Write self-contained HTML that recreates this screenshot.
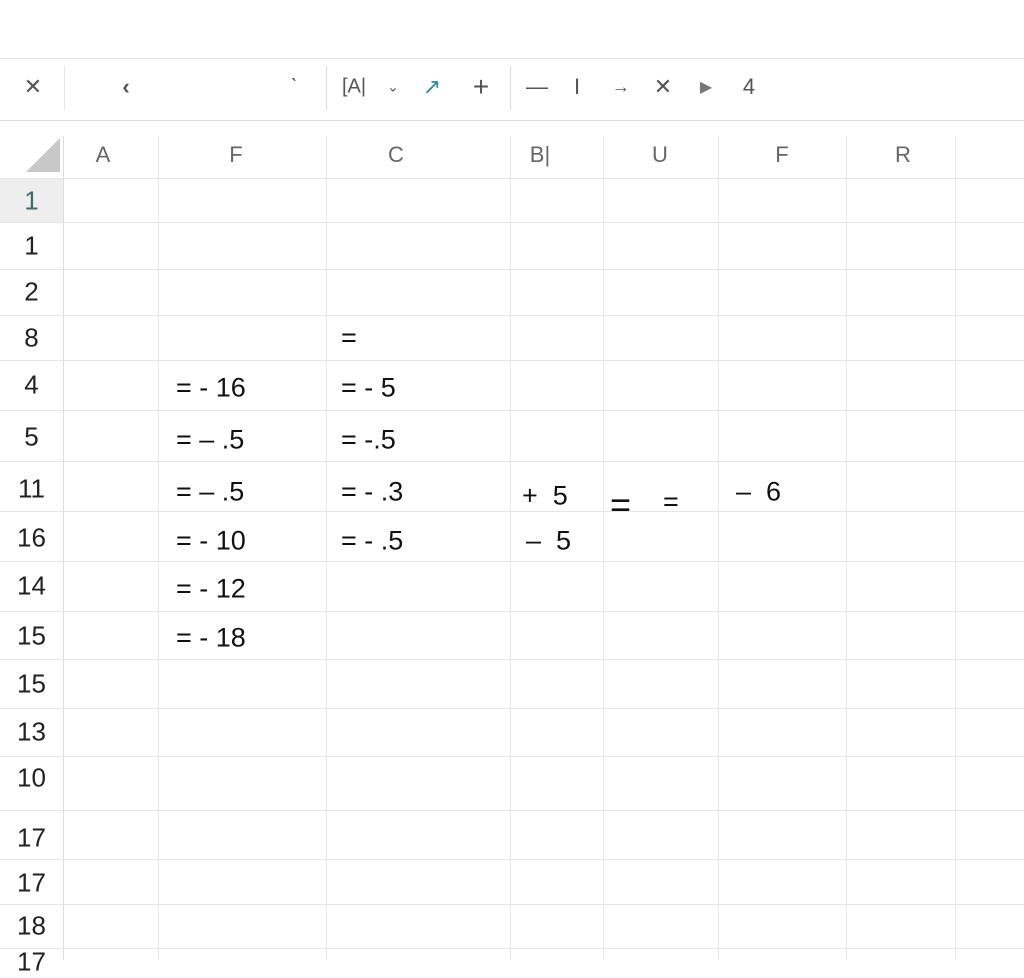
<!DOCTYPE html>
<html><head><style>
body{margin:0;width:1024px;height:960px;background:#fff;position:relative;overflow:hidden;font-family:"Liberation Sans",sans-serif;}
.a{position:absolute;}
.h{position:absolute;height:1px;background:#e6e6e6;left:0;width:1024px}
.v{position:absolute;width:1px;background:#e8e8e8;top:136px;height:824px}
.t{position:absolute;font-size:27px;color:#111;white-space:pre;transform:translateY(-50%)}
.r{position:absolute;left:0;width:63px;text-align:center;font-size:26px;color:#222;transform:translateY(-50%)}
.c{position:absolute;top:155px;font-size:22px;color:#666;transform:translate(-50%,-50%)}
.i{position:absolute;top:87px;font-size:22px;color:#555;transform:translate(-50%,-50%)}
</style></head><body>
<div class="h" style="top:58px;background:#e4e4e4"></div>
<div class="h" style="top:120px;background:#ddd"></div>
<div class="a" style="left:64px;top:66px;width:1px;height:44px;background:#e5e5e5"></div>
<div class="a" style="left:326px;top:66px;width:1px;height:44px;background:#ddd"></div>
<div class="a" style="left:510px;top:66px;width:1px;height:44px;background:#ddd"></div>
<div class="i" style="left:33px">✕</div>
<div class="i" style="left:126px;font-weight:bold">‹</div>
<div class="i" style="left:294px">ˋ</div>
<div class="i" style="left:354px;font-size:20px">[A|</div>
<div class="i" style="left:393px;font-size:14px">⌄</div>
<div class="i" style="left:432px;color:#2a8aa0">↗</div>
<div class="i" style="left:481px;font-size:28px">+</div>
<div class="i" style="left:537px">—</div>
<div class="i" style="left:577px">I</div>
<div class="i" style="left:621px;font-size:18px">→</div>
<div class="i" style="left:663px">✕</div>
<div class="i" style="left:706px;color:#777;font-size:16px">▶</div>
<div class="i" style="left:749px">4</div>
<svg class="a" style="left:26px;top:138px" width="34" height="34"><polygon points="34,0 34,34 0,34" fill="#c8c8c8"/></svg>
<div class="a" style="left:0;top:179px;width:63px;height:43px;background:#eeeeee"></div>
<div class="c" style="left:103px">A</div><div class="c" style="left:236px">F</div><div class="c" style="left:396px">C</div><div class="c" style="left:540px">B|</div><div class="c" style="left:660px">U</div><div class="c" style="left:782px">F</div><div class="c" style="left:903px">R</div>
<div class="v" style="left:63px;background:#ddd"></div><div class="v" style="left:158px"></div><div class="v" style="left:326px"></div><div class="v" style="left:510px"></div><div class="v" style="left:603px"></div><div class="v" style="left:718px"></div><div class="v" style="left:846px"></div><div class="v" style="left:955px"></div>
<div class="h" style="top:178px"></div><div class="h" style="top:222px"></div><div class="h" style="top:269px"></div><div class="h" style="top:315px"></div><div class="h" style="top:360px"></div><div class="h" style="top:410px"></div><div class="h" style="top:461px"></div><div class="h" style="top:511px"></div><div class="h" style="top:561px"></div><div class="h" style="top:611px"></div><div class="h" style="top:659px"></div><div class="h" style="top:708px"></div><div class="h" style="top:756px"></div><div class="h" style="top:810px"></div><div class="h" style="top:859px"></div><div class="h" style="top:904px"></div><div class="h" style="top:948px"></div>
<div class="r" style="top:201px;color:#3d6b66">1</div><div class="r" style="top:246px">1</div><div class="r" style="top:292px">2</div><div class="r" style="top:338px">8</div><div class="r" style="top:385px">4</div><div class="r" style="top:437px">5</div><div class="r" style="top:489px">11</div><div class="r" style="top:538px">16</div><div class="r" style="top:586px">14</div><div class="r" style="top:636px">15</div><div class="r" style="top:684px">15</div><div class="r" style="top:732px">13</div><div class="r" style="top:778px">10</div><div class="r" style="top:838px">17</div><div class="r" style="top:883px">17</div><div class="r" style="top:926px">18</div><div class="r" style="top:962px">17</div>
<div class="t" style="left:341px;top:338px">=</div>
<div class="t" style="left:176px;top:388px">= - 16</div><div class="t" style="left:341px;top:388px">= - 5</div>
<div class="t" style="left:176px;top:440px">= – .5</div><div class="t" style="left:341px;top:440px">= -.5</div>
<div class="t" style="left:176px;top:492px">= – .5</div><div class="t" style="left:341px;top:492px">= - .3</div>
<div class="t" style="left:176px;top:541px">= - 10</div><div class="t" style="left:341px;top:541px">= - .5</div>
<div class="t" style="left:176px;top:589px">= - 12</div>
<div class="t" style="left:176px;top:638px">= - 18</div>
<div class="t" style="left:522px;top:496px">+  5</div>
<div class="t" style="left:526px;top:541px">–  5</div>
<div class="t" style="left:610px;top:505px;font-size:36px">=</div>
<div class="t" style="left:663px;top:502px">=</div>
<div class="t" style="left:736px;top:492px">–  6</div>
</body></html>
